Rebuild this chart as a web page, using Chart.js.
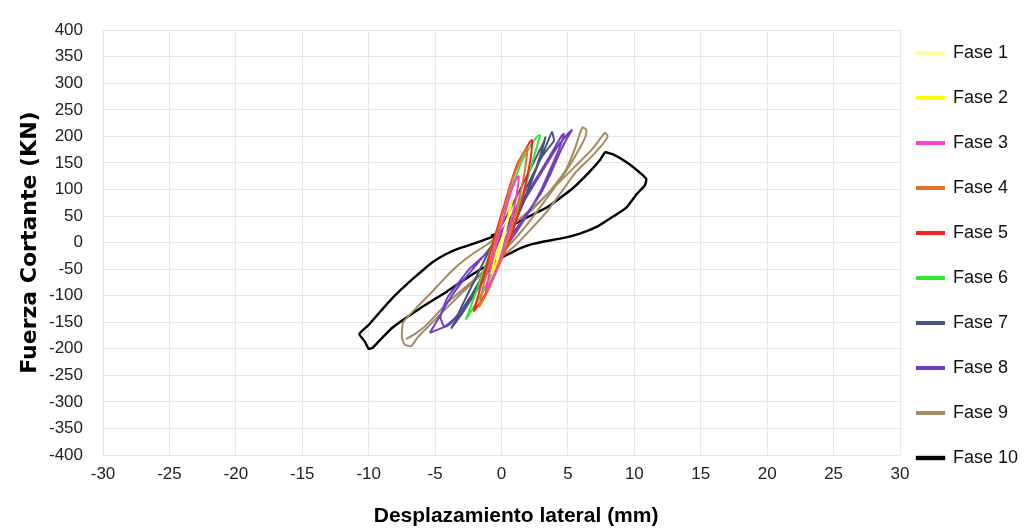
<!DOCTYPE html>
<html>
<head>
<meta charset="utf-8">
<script src="https://cdn.jsdelivr.net/npm/chart.js@4.4.1/dist/chart.umd.min.js"></script>
<style>
  body { margin: 0; background: #fff; }
  #wrap { width: 1032px; height: 531px; }
</style>
</head>
<body>
<div id="wrap"><canvas id="hysteresisChart" width="1032" height="531"></canvas></div>
<script>
// Axis ticks
var xTicks = [-30, -25, -20, -15, -10, -5, 0, 5, 10, 15, 20, 25, 30];
var yTicks = [-400, -350, -300, -250, -200, -150, -100, -50, 0, 50, 100, 150, 200, 250, 300, 350, 400];

var faseNames = ['Fase 1', 'Fase 2', 'Fase 3', 'Fase 4', 'Fase 5', 'Fase 6', 'Fase 7', 'Fase 8', 'Fase 9', 'Fase 10'];

// Displacement (mm) / shear force (kN)
var fase1X = [0, 0.2, 0.4, 0.45, 0.3, 0.1, -0.1, -0.3, -0.35, -0.2, 0];
var fase1Y = [0, 22, 38, 42, 24, 2, -16, -30, -32, -14, 0];

var fase2X = [0, 0.3, 0.6, 0.8, 0.75, 0.5, 0.2, -0.1, -0.4, -0.7, -0.75, -0.55, -0.25, 0.05];
var fase2Y = [0, 30, 60, 80, 72, 45, 15, -15, -40, -56, -58, -35, -10, 10];

var fase3X = [-1.2, -0.6, 0, 0.6, 1.1, 1.3, 1.15, 0.7, 0.2, -0.3, -0.8, -1.1, -1.2];
var fase3Y = [-92, -62, -20, 30, 85, 125, 122, 95, 50, 5, -45, -80, -92];

var fase4X = [-1.7, -1.1, -0.4, 0.3, 0.9, 1.4, 1.75, 1.95, 1.8, 1.3, 0.7, 0.2, -0.3, -0.8, -1.3, -1.6, -1.7];
var fase4Y = [-122, -95, -55, -10, 40, 90, 135, 178, 175, 150, 110, 65, 20, -30, -75, -110, -122];

var fase5X = [-2.1, -1.4, -0.6, 0.2, 0.9, 1.5, 1.9, 2.2, 2.3, 2.15, 1.8, 1.2, 0.7, 0.2, -0.3, -0.8, -1.3, -1.7, -2.0, -2.1];
var fase5Y = [-130, -105, -65, -20, 25, 75, 120, 160, 193, 190, 175, 148, 112, 70, 28, -15, -58, -95, -122, -130];

var fase6X = [-2.7, -2.0, -1.1, -0.2, 0.6, 1.3, 1.9, 2.4, 2.75, 2.9, 2.7, 2.2, 1.5, 0.9, 0.3, -0.3, -0.9, -1.5, -2.1, -2.5, -2.7];
var fase6Y = [-145, -118, -78, -28, 18, 68, 115, 158, 188, 202, 200, 183, 152, 112, 70, 28, -20, -65, -105, -133, -145];

var fase7X = [-3.8, -3.0, -2.0, -1.0, 0, 1.0, 2.0, 2.8, 3.4, 3.8, 3.95, 3.6, 3.0, 2.2, 1.3, 0.4, -0.5, -1.5, -2.5, -3.3, -3.6, -3.0, -2.1, -1.1, 0, 1.0, 1.9, 2.6, 3.1, 3.3, 3.2, 2.6, 1.8, 0.9, 0, -1.0, -2.0, -2.9, -3.5, -3.8];
var fase7Y = [-162, -135, -95, -50, -5, 45, 100, 150, 185, 208, 192, 180, 160, 120, 75, 30, -15, -65, -110, -145, -155, -132, -100, -58, -12, 38, 90, 140, 178, 198, 190, 160, 120, 75, 32, -18, -70, -115, -148, -162];

var fase8X = [-5.4, -4.6, -3.9, -3.1, -2.4, -1.5, -0.7, 0.2, 1.1, 2.0, 2.9, 3.7, 4.4, 4.9, 5.3, 5.0, 4.2, 3.2, 2.1, 1.0, -0.15, -1.2, -2.4, -3.3, -4.1, -4.6, -4.3, -3.5, -2.6, -1.5, -0.3, 0.9, 2.0, 3.0, 3.8, 4.4, 4.7, 4.5, 3.8, 2.8, 1.7, 0.5, -0.7, -1.9, -3.0, -4.0, -4.8, -5.4];
var fase8Y = [-170, -162, -154, -130, -105, -70, -36, -5, 26, 58, 90, 130, 170, 195, 212, 205, 180, 140, 95, 50, 7, -22, -49, -78, -105, -140, -158, -142, -112, -72, -30, 12, 55, 100, 145, 180, 205, 200, 170, 128, 85, 40, -5, -42, -75, -110, -145, -170];

var fase9X = [-1.1, 1.1, 3.4, 4.8, 5.5, 5.9, 6.1, 6.4, 6.3, 5.6, 4.6, 3.3, 1.8, 0.4, -1.3, -3.2, -5.0, -6.3, -6.8, -7.3, -7.5, -7.4, -6.3, -5.2, -4.2, -3.2, -2.1, -1.1, 0, 1.1, 2.3, 3.4, 4.6, 5.8, 6.8, 7.5, 7.8, 8.0, 7.6, 6.7, 5.6, 4.5, 3.4, 2.2, 1.1, 0, -1.1, -2.4, -3.7, -4.7, -5.6, -6.5, -7.2];
var fase9Y = [-4, 39, 90, 135, 175, 205, 217, 212, 198, 165, 125, 80, 30, -10, -55, -100, -145, -178, -195, -192, -178, -150, -120, -92, -65, -41, -20, -4, 15, 39, 62, 90, 120, 150, 175, 198, 207, 200, 185, 160, 133, 95, 58, 25, -4, -27, -49, -77, -105, -130, -154, -172, -182];

var fase10X = [-0.8, 0, 1.5, 3.4, 5.3, 6.5, 7.4, 7.8, 8.4, 9.5, 10.5, 10.9, 10.8, 10.2, 9.4, 8.4, 7.2, 5.9, 4.5, 3.4, 2.3, 1.4, 0.5, -0.2, -1.2, -2.2, -4.1, -6.2, -8.2, -9.2, -9.7, -10.0, -10.3, -10.7, -10.0, -9.2, -8.2, -7.2, -6.2, -5.2, -4.2, -3.2, -2.1, -1.1, -0.2];
var fase10Y = [13, 20, 42, 66, 101, 130, 155, 170, 166, 150, 130, 120, 108, 92, 66, 49, 30, 17, 8, 3, -3, -11, -22, -31, -45, -60, -92, -125, -160, -185, -198, -200, -186, -172, -155, -132, -104, -80, -58, -37, -22, -11, -2, 7, 15];

var faseColors = ['#ffff99', '#ffff00', '#ff40cc', '#e8702a', '#ff2020', '#33e633', '#48527c', '#7040c0', '#a68a60', '#000000'];

var faseX = [fase1X, fase2X, fase3X, fase4X, fase5X, fase6X, fase7X, fase8X, fase9X, fase10X];
var faseY = [fase1Y, fase2Y, fase3Y, fase4Y, fase5Y, fase6Y, fase7Y, fase8Y, fase9Y, fase10Y];

var datasets = faseNames.map(function(name, i) {
    return {
        label: name,
        data: faseX[i].map(function(x, j) { return { x: x, y: faseY[i][j] }; }),
        showLine: true,
        borderColor: faseColors[i],
        backgroundColor: faseColors[i],
        borderWidth: i === 9 ? 2.4 : 2,
        pointRadius: 0,
        tension: 0.15,
        fill: false
    };
});

// Fixed legend column width, then nudge it up/left like the original
var legendPlace = {
    id: 'legendPlace',
    beforeUpdate: function(chart) {
        var lg = chart.legend;
        if (lg && !lg._patched) {
            var orig = lg.fit;
            lg.fit = function() {
                orig.call(this);
                this.width = 132;
            };
            lg._patched = true;
        }
    },
    afterLayout: function(chart) {
        var lg = chart.legend;
        lg.left -= 10; lg.right -= 10;
        lg.top -= 24; lg.bottom -= 24;
    }
};

var ctx = document.getElementById('hysteresisChart').getContext('2d');
var tickFont = { family: "'Liberation Sans', Arial, sans-serif", size: 17 };

new Chart(ctx, {
    type: 'scatter',
    data: { datasets: datasets },
    plugins: [legendPlace],
    options: {
        responsive: false,
        animation: false,
        devicePixelRatio: 1,
        layout: { padding: { top: 28, left: 0, right: 0, bottom: 0 } },
        plugins: {
            tooltip: { enabled: false },
            legend: {
                position: 'right',
                align: 'center',
                labels: {
                    boxWidth: 27,
                    boxHeight: 2,
                    padding: 27,
                    color: '#111',
                    font: { family: "'Liberation Sans', Arial, sans-serif", size: 18 }
                }
            }
        },
        scales: {
            x: {
                type: 'linear',
                min: -30,
                max: 30,
                afterBuildTicks: function(scale) {
                    scale.ticks = xTicks.map(function(v) { return { value: v }; });
                },
                afterFit: function(scale) { scale.height = 76; },
                grid: { color: '#e6e6e6', drawTicks: false },
                border: { display: false },
                ticks: { color: '#222', font: tickFont, padding: 9, maxRotation: 0 },
                title: {
                    display: true,
                    // leading spaces push the title right, as in the original
                    text: '\u00a0\u00a0\u00a0\u00a0\u00a0Desplazamiento lateral (mm)',
                    color: '#000',
                    font: { family: "'Liberation Sans', Arial, sans-serif", size: 21, weight: 'bold' },
                    padding: { top: 0, bottom: 2 }
                }
            },
            y: {
                type: 'linear',
                min: -400,
                max: 400,
                afterBuildTicks: function(scale) {
                    scale.ticks = yTicks.map(function(v) { return { value: v }; });
                },
                afterFit: function(scale) { scale.width = 103; },
                grid: { color: '#e6e6e6', drawTicks: false },
                border: { display: false },
                ticks: { color: '#222', font: tickFont, padding: 20 },
                title: {
                    display: true,
                    text: 'Fuerza Cortante (KN)',
                    color: '#000',
                    font: { family: "'DejaVu Sans', sans-serif", size: 22, weight: 'bold' },
                    padding: { top: 17, bottom: 0 }
                }
            }
        }
    }
});
</script>
</body>
</html>
